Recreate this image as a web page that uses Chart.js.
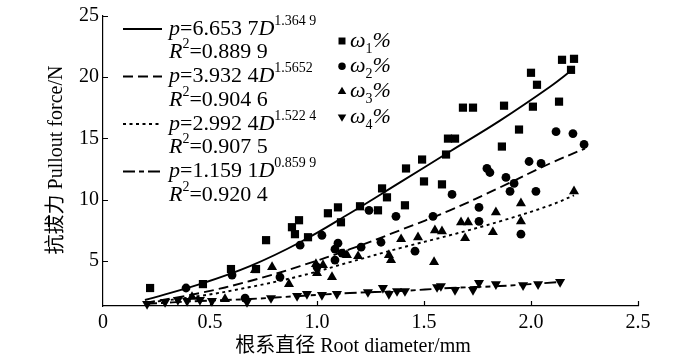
<!DOCTYPE html>
<html>
<head>
<meta charset="utf-8">
<script src="https://cdn.jsdelivr.net/npm/chart.js@4.4.1/dist/chart.umd.min.js"></script>
<style>
  html, body { margin: 0; padding: 0; background: #fff; }
</style>
</head>
<body>
<canvas id="myChart" width="700" height="360"></canvas>
<script>
// tick labels
const xTicks = [0, 0.5, 1.0, 1.5, 2.0, 2.5];
const yTicks = [5, 10, 15, 20, 25];

// measured points, root diameter D (mm) / pullout force p (N)
const w1D = [0.22, 0.467, 0.598, 0.715, 0.762, 0.883, 0.916, 0.897, 0.958, 1.051, 1.098, 1.112, 1.201, 1.285, 1.304, 1.327, 1.411, 1.416, 1.491, 1.5, 1.584, 1.603, 1.612, 1.645, 1.682, 1.729, 1.864, 1.874, 1.944, 2.0, 2.009, 2.028, 2.131, 2.145, 2.201, 2.187];
const w1P = [2.77, 3.09, 4.32, 4.32, 6.68, 7.74, 8.31, 7.17, 6.92, 8.88, 9.36, 8.14, 9.45, 9.12, 10.91, 10.18, 9.53, 12.54, 13.27, 11.48, 11.24, 13.68, 14.98, 14.98, 17.51, 17.51, 14.33, 17.67, 15.72, 20.36, 17.59, 19.38, 18.0, 21.42, 21.5, 20.6];

const w2D = [0.388, 0.603, 0.664, 0.827, 0.921, 1.0, 1.023, 1.098, 1.084, 1.084, 1.117, 1.206, 1.243, 1.299, 1.369, 1.458, 1.542, 1.631, 1.757, 1.757, 1.794, 1.808, 1.883, 1.902, 1.921, 1.953, 1.991, 2.023, 2.047, 2.117, 2.196, 2.248];
const w2P = [2.77, 3.83, 1.95, 3.66, 6.27, 4.48, 7.08, 6.43, 5.94, 5.05, 5.62, 6.11, 9.12, 6.51, 8.63, 5.78, 8.63, 10.42, 9.36, 8.22, 12.54, 12.21, 11.81, 10.67, 11.32, 7.17, 13.11, 10.67, 12.95, 15.55, 15.39, 14.5];

const w3D = [0.416, 0.57, 0.71, 0.79, 0.869, 0.995, 1.028, 1.0, 1.07, 1.126, 1.14, 1.192, 1.336, 1.346, 1.393, 1.472, 1.551, 1.584, 1.547, 1.673, 1.706, 1.692, 1.836, 1.822, 1.953, 1.953, 2.201];
const w3P = [2.04, 1.87, 4.23, 4.48, 3.09, 4.72, 4.64, 3.99, 3.66, 5.54, 5.46, 5.37, 5.46, 5.05, 6.76, 6.92, 7.49, 7.41, 4.89, 8.14, 8.14, 6.84, 8.96, 7.33, 9.69, 8.22, 10.67];

const w4D = [0.206, 0.29, 0.35, 0.393, 0.453, 0.509, 0.673, 0.785, 0.907, 0.953, 1.023, 1.093, 1.238, 1.308, 1.336, 1.374, 1.411, 1.561, 1.579, 1.645, 1.729, 1.757, 1.836, 1.963, 2.033, 2.136];
const w4P = [1.47, 1.63, 1.79, 1.71, 1.79, 1.71, 1.63, 1.95, 2.12, 2.28, 2.2, 2.28, 2.44, 2.77, 2.28, 2.52, 2.52, 2.85, 2.93, 2.61, 2.61, 3.18, 3.09, 3.01, 3.09, 3.26];

// fitted curves
const fitD = [0.196, 0.453, 0.687, 0.921, 1.154, 1.388, 1.621, 1.855, 2.089];
const fit1P = [1.79, 3.09, 4.56, 6.51, 8.88, 11.4, 13.93, 16.45, 19.22, 20.52];
const fit2P = [1.55, 2.36, 3.34, 4.56, 5.94, 7.49, 9.12, 10.99, 12.95, 14.17];
const fit3P = [1.55, 2.12, 2.85, 3.75, 4.89, 6.03, 7.08, 8.22, 9.53, 10.34];
const fit4P = [1.47, 1.71, 1.87, 2.12, 2.36, 2.52, 2.77, 2.93, 3.26];
const fitEndD = [2.187, 2.252, 2.201, 2.136];

// legend text
const coefA = ['6.653 7', '3.932 4', '2.992 4', '1.159 1'];
const expB = ['1.364 9', '1.5652', '1.522 4', '0.859 9'];
const r2 = ['0.889 9', '0.904 6', '0.907 5', '0.920 4'];
const seriesIdx = ['1', '2', '3', '4'];

const SERIF = '"Liberation Serif", "Times New Roman", serif';
const CJK = '"Liberation Serif", "Noto Sans CJK SC", serif';

const pts = (xs, ys) => xs.map((x, i) => ({ x: x, y: ys[i] }));
const curve = (ys, endD) => {
  const xs = fitD.slice(0, ys.length - 1).concat([endD]);
  return pts(xs, ys);
};

const markers = [
  { style: 'rect', radius: 5.8, rotation: 0 },
  { style: 'circle', radius: 4.4, rotation: 0 },
  { style: 'triangle', radius: 5.8, rotation: 0 },
  { style: 'triangle', radius: 5.8, rotation: 180 }
];
const dashes = [[], [10, 5], [3, 3.5], [12, 4, 5, 4]];

function scatterSet(data, m) {
  return {
    type: 'scatter', data: data, pointStyle: m.style, pointRadius: m.radius,
    pointRotation: m.rotation, backgroundColor: '#000', borderColor: '#000',
    borderWidth: 0, clip: false
  };
}
function fitSet(data, dash) {
  return {
    type: 'line', data: data, showLine: true, borderColor: '#000', borderWidth: 1.9,
    borderDash: dash, pointRadius: 0, tension: 0.4, fill: false
  };
}

function drawRuns(ctx, x, y, parts) {
  parts.forEach(p => {
    const size = (p.sup || p.sub) ? 14 : 22;
    ctx.font = (p.it ? 'italic ' : '') + size + 'px ' + SERIF;
    const dy = p.sup ? -8 : (p.sub ? 8 : 0);
    ctx.fillText(p.t, x, y + dy);
    x += ctx.measureText(p.t).width;
  });
}

const extras = {
  id: 'extras',
  afterDraw(chart) {
    const ctx = chart.ctx;
    const xs = chart.scales.x, ys = chart.scales.y;
    ctx.save();
    ctx.fillStyle = '#000';
    ctx.strokeStyle = '#000';

    // inward ticks
    ctx.lineWidth = 1.2;
    ctx.beginPath();
    xTicks.slice(1).forEach(v => {
      const px = Math.round(xs.getPixelForValue(v)) + 0.5;
      ctx.moveTo(px, ys.bottom); ctx.lineTo(px, ys.bottom - 5);
    });
    yTicks.forEach(v => {
      const py = Math.round(ys.getPixelForValue(v)) + 0.5;
      ctx.moveTo(xs.left, py); ctx.lineTo(xs.left + 5, py);
    });
    ctx.stroke();

    // axis titles
    ctx.textBaseline = 'middle';
    ctx.textAlign = 'center';
    ctx.font = '20px ' + CJK;
    ctx.fillText('根系直径 Root diameter/mm', 353, 347);
    ctx.save();
    ctx.translate(57, 160);
    ctx.rotate(-Math.PI / 2);
    ctx.fillText('抗拔力 Pullout force/N', 0, 0);
    ctx.restore();

    // fit legend
    ctx.textAlign = 'left';
    for (let i = 0; i < 4; i++) {
      const y0 = 29 + i * 47.5;
      ctx.lineWidth = 1.9;
      ctx.setLineDash(dashes[i]);
      ctx.beginPath();
      ctx.moveTo(123, y0); ctx.lineTo(162, y0);
      ctx.stroke();
      ctx.setLineDash([]);
      drawRuns(ctx, 169, y0, [
        { t: 'p', it: true }, { t: '=' + coefA[i] }, { t: 'D', it: true }, { t: expB[i], sup: true }
      ]);
      drawRuns(ctx, 169, y0 + 23.5, [
        { t: 'R', it: true }, { t: '2', sup: true }, { t: '=' + r2[i] }
      ]);
    }

    // series legend
    for (let i = 0; i < 4; i++) {
      const y0 = 41 + i * 25.3;
      const m = markers[i];
      Chart.helpers.drawPoint(ctx, { pointStyle: m.style, radius: m.radius * 0.85, rotation: m.rotation, borderWidth: 0 }, 342, y0);
      drawRuns(ctx, 350, y0, [
        { t: 'ω', it: true }, { t: seriesIdx[i], sub: true }, { t: '%', it: true }
      ]);
    }
    ctx.restore();
  }
};

const ctx = document.getElementById('myChart');
const myChart = new Chart(ctx, {
  data: {
    datasets: [
      scatterSet(pts(w1D, w1P), markers[0]),
      scatterSet(pts(w2D, w2P), markers[1]),
      scatterSet(pts(w3D, w3P), markers[2]),
      scatterSet(pts(w4D, w4P), markers[3]),
      fitSet(curve(fit1P, fitEndD[0]), dashes[0]),
      fitSet(curve(fit2P, fitEndD[1]), dashes[1]),
      fitSet(curve(fit3P, fitEndD[2]), dashes[2]),
      fitSet(curve(fit4P, fitEndD[3]), dashes[3])
    ]
  },
  options: {
    responsive: false,
    animation: false,
    devicePixelRatio: 1,
    layout: { padding: { left: 0, right: 62, top: 15, bottom: 0 } },
    plugins: { legend: { display: false }, tooltip: { enabled: false } },
    scales: {
      x: {
        type: 'linear', min: 0, max: 2.5,
        afterBuildTicks: s => { s.ticks = xTicks.map(v => ({ value: v })); },
        afterFit: s => { s.height = 54; },
        grid: { display: false, drawTicks: false },
        border: { display: true, color: '#000', width: 1.2 },
        ticks: {
          color: '#000', padding: 5, maxRotation: 0,
          font: { family: SERIF, size: 20 },
          callback: v => v === 0 ? '0' : v.toFixed(1)
        }
      },
      y: {
        type: 'linear', min: 1.3, max: 25,
        afterBuildTicks: s => { s.ticks = yTicks.map(v => ({ value: v })); },
        afterFit: s => { s.width = 103; },
        grid: { display: false, drawTicks: false },
        border: { display: true, color: '#000', width: 1.2 },
        ticks: {
          color: '#000', padding: 4,
          font: { family: SERIF, size: 20 }
        }
      }
    }
  },
  plugins: [extras]
});
</script>
</body>
</html>
